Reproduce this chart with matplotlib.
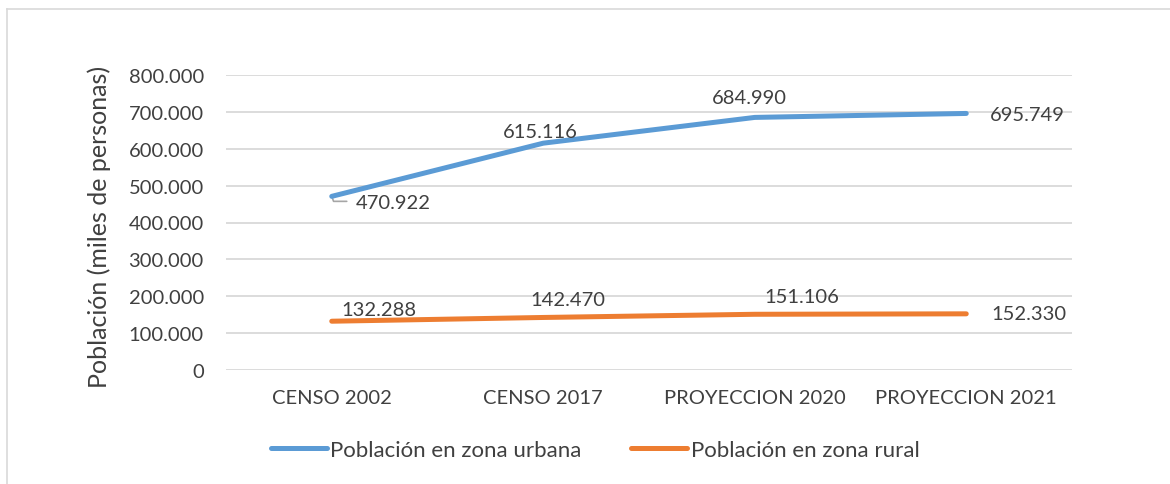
import matplotlib.pyplot as plt
from matplotlib.lines import Line2D
from matplotlib.ticker import FuncFormatter

categories = ["CENSO 2002", "CENSO 2017", "PROYECCION 2020", "PROYECCION 2021"]
urbana = [470922, 615116, 684990, 695749]
rural = [132288, 142470, 151106, 152330]
y_ticks = [0, 100000, 200000, 300000, 400000, 500000, 600000, 700000, 800000]

# label offsets in pixels (x, y) relative to each point, as placed in the source chart
urbana_offsets = [(24, -6, "left"), (-3, 12, "center"), (-5, 20, "center"), (24, -1, "left")]
rural_offsets = [(47, 12, "center"), (25, 18, "center"), (47, 18, "center"), (25, 0, "left")]

BLUE = "#5B9BD5"
ORANGE = "#ED7D31"
TEXT = "#404040"
GRID = "#D9D9D9"

plt.rcParams['font.family'] = ['Lato', 'DejaVu Sans']
FS = 14.5


def fmt_miles(v):
    return f"{int(round(v)):,}".replace(",", ".")


fig = plt.figure(figsize=(11.7, 4.85), dpi=100)
ax = fig.add_axes([226 / 1170, 1 - 371 / 485, 846 / 1170, 295 / 485])

x = list(range(len(categories)))
ax.plot(x, urbana, color=BLUE, lw=3.6, solid_capstyle='round', zorder=3,
        label="Población en zona urbana")
ax.plot(x, rural, color=ORANGE, lw=3.6, solid_capstyle='round', zorder=3,
        label="Población en zona rural")

for xi, v, (dx, dy, ha) in zip(x, urbana, urbana_offsets):
    ax.annotate(fmt_miles(v), (xi, v), xytext=(dx, dy), textcoords='offset pixels',
                ha=ha, va='center', fontsize=FS, color=TEXT)
for xi, v, (dx, dy, ha) in zip(x, rural, rural_offsets):
    ax.annotate(fmt_miles(v), (xi, v), xytext=(dx, dy), textcoords='offset pixels',
                ha=ha, va='center', fontsize=FS, color=TEXT)

# leader line of the first urban label
ax.annotate("", xy=(x[0], urbana[0]), xytext=(15, -5), textcoords='offset pixels',
            arrowprops=dict(arrowstyle='-', color='#A6A6A6', lw=1.2, shrinkA=0, shrinkB=0,
                            connectionstyle='angle,angleA=180,angleB=-70,rad=0'),
            zorder=2)

ax.set_xlim(-0.5, 3.5)
ax.set_ylim(0, 800000)
ax.set_yticks(y_ticks)
ax.yaxis.set_major_formatter(FuncFormatter(lambda v, p: fmt_miles(v)))
ax.set_xticks(x)
ax.set_xticklabels(categories)
ax.tick_params(axis='both', length=0, labelsize=FS, colors=TEXT)
ax.tick_params(axis='y', pad=16)
ax.tick_params(axis='x', pad=14)
ax.grid(axis='y', color=GRID, lw=1.3)
ax.set_axisbelow(True)
for s in ax.spines.values():
    s.set_visible(False)

ax.set_ylabel("Población (miles de personas)", fontsize=18, color=TEXT)
ax.yaxis.set_label_coords(-0.136, 0.49)

leg = fig.legend(loc='center', bbox_to_anchor=(595 / 1170, 1 - 451 / 485), ncol=2,
                 frameon=False, fontsize=16, handlelength=2.55, handletextpad=0.14,
                 columnspacing=2.2, labelcolor=TEXT)

# outer chart frame (top and left edges visible)
fig.add_artist(Line2D([7 / 1170, 1], [1 - 10 / 485, 1 - 10 / 485], color=GRID, lw=1.2,
                      transform=fig.transFigure))
fig.add_artist(Line2D([7 / 1170, 7 / 1170], [0, 1 - 10 / 485], color=GRID, lw=1.2,
                      transform=fig.transFigure))

fig.savefig("out.png", dpi=100)
